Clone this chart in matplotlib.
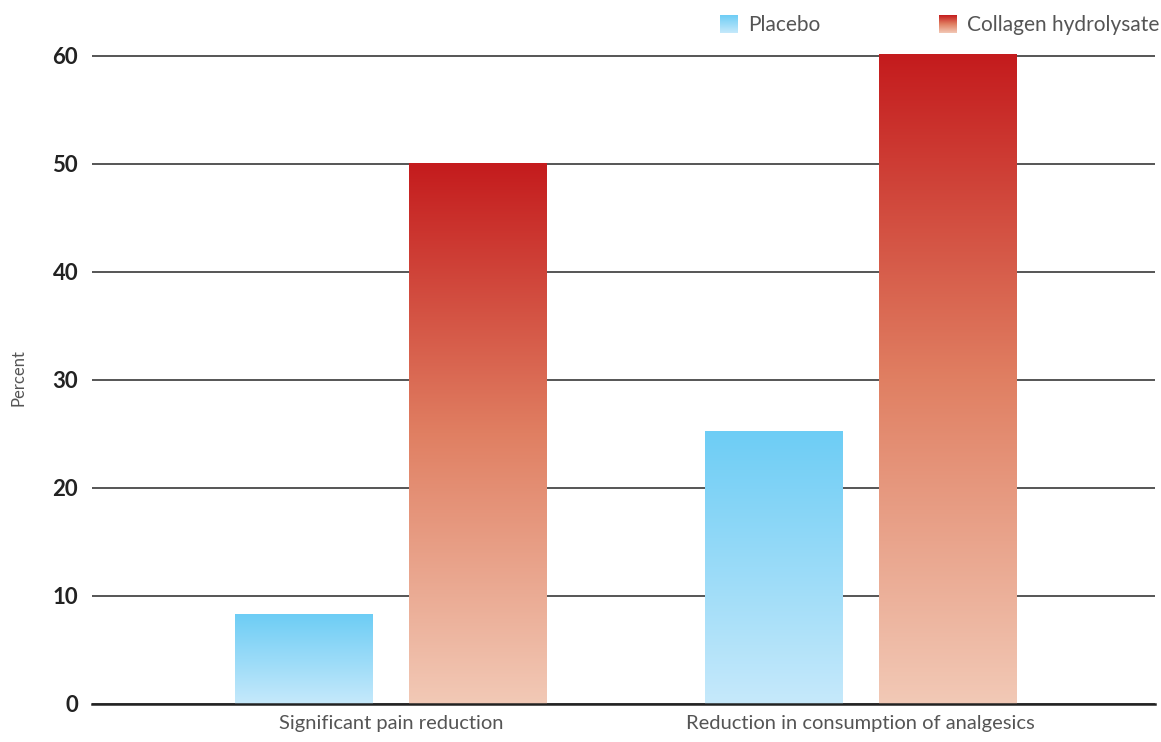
import numpy as np
import matplotlib
matplotlib.use("Agg")
import matplotlib.pyplot as plt
from matplotlib.colors import LinearSegmentedColormap

categories = ["Significant pain reduction", "Reduction in consumption of analgesics"]
series_names = ["Placebo", "Collagen hydrolysate"]
placebo = [8.3, 25.3]
collagen = [50.1, 60.2]
yticks = [0, 10, 20, 30, 40, 50, 60]

blue_cmap = LinearSegmentedColormap.from_list("b", ["#c6e9fb", "#6dcdf5"])
red_cmap = LinearSegmentedColormap.from_list("r", ["#f2c9b6", "#e07f62", "#c41b1d"])

fig = plt.figure(figsize=(11.61, 7.42), dpi=100)
ax = fig.add_axes([92/1161, 38/742, 1063/1161, (61*10.8)/742])
ax.set_xlim(-0.636, 1.626)
ax.set_ylim(0, 61)

x = np.arange(len(categories))
w = 0.293
off = 0.1855
grad = np.linspace(0, 1, 256).reshape(-1, 1)

for vals, dx, cmap in [(placebo, -off, blue_cmap), (collagen, off, red_cmap)]:
    bars = ax.bar(x + dx, vals, width=w, color="none", edgecolor="none", zorder=3)
    for b in bars:
        x0, y0 = b.get_x(), b.get_y()
        x1, y1 = x0 + b.get_width(), y0 + b.get_height()
        im = ax.imshow(grad, cmap=cmap, origin="lower", extent=[x0, x1, y0, y1],
                       aspect="auto", zorder=3, interpolation="bicubic")
        im.set_clip_path(b)

ax.set_yticks(yticks)
ax.set_yticklabels([str(t) for t in yticks], fontfamily="Lato", fontweight="bold",
                   fontsize=16, color="#222222")
ax.yaxis.grid(True, color="#555555", linewidth=1.4, zorder=1)
ax.set_axisbelow(True)
ax.tick_params(axis="y", length=0, pad=10)
ax.set_xticks(x)
ax.set_xticklabels(categories, fontfamily="Lato", fontweight="normal", fontsize=14.5, color="#555555")
ax.tick_params(axis="x", length=0, pad=8)
for s in ["top", "right", "left"]:
    ax.spines[s].set_visible(False)
ax.spines["bottom"].set_color("#222222")
ax.spines["bottom"].set_linewidth(1.8)
ax.spines["bottom"].set_zorder(4)
ax.set_ylabel("Percent", fontfamily="Lato", fontweight="normal", fontsize=12, color="#555555")
ax.yaxis.set_label_coords(-0.062, 0.495)

# legend
for (lx, name, cmap) in [(720, series_names[0], blue_cmap), (939, series_names[1], red_cmap)]:
    sw = fig.add_axes([lx/1161, (742-33)/742, 18/1161, 18/742])
    sw.imshow(grad, cmap=cmap, origin="lower", aspect="auto", extent=[0, 1, 0, 1])
    sw.axis("off")
    fig.text((lx + 28)/1161, (742-25)/742, name, fontfamily="Lato", fontweight="normal",
             fontsize=15, color="#555555", va="center", ha="left")

fig.savefig("out.png", dpi=100)
